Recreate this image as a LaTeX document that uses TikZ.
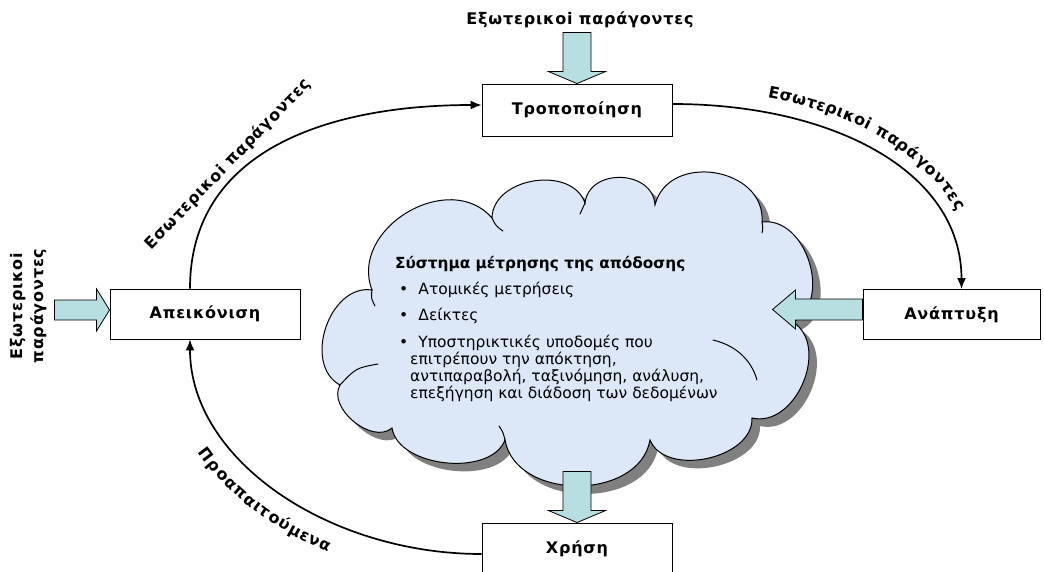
\documentclass[tikz,border=0pt]{standalone}
\usepackage{fontspec}
\setmainfont{DejaVu Sans}
\newfontfamily\lblfont{DejaVu Sans}[LetterSpace=5]
\usetikzlibrary{arrows.meta,decorations.text}
\definecolor{cloudfill}{RGB}{220,232,247}
\definecolor{shadowgray}{RGB}{128,128,128}
\definecolor{arrowfill}{RGB}{183,222,225}

% outline of the central cloud (cusp to cusp, bulging outwards)
\newcommand\cloudshape{(372,290)
  to[bend left=80, looseness=1.2] (492,218)
  to[bend left=80, looseness=1.1] (585,203)
  to[bend left=85, looseness=1.3] (655,205)
  to[bend left=85, looseness=1.3] (762,222)
  to[bend left=80, looseness=1.1] (793,322)
  to[bend left=80, looseness=1.1] (752,418)
  to[bend left=80, looseness=1.0] (650,440)
  to[bend left=80, looseness=1.1] (505,440)
  to[bend left=75, looseness=0.9] (392,428)
  to[bend left=80, looseness=1.0] (340,385)
  to[bend left=80, looseness=1.1] (372,290) -- cycle}

\begin{document}
\begin{tikzpicture}[x=1pt,y=-1pt,
  box/.style={draw, line width=0.9pt, fill=white, minimum width=190pt,
    minimum height=50pt, inner sep=0pt, font=\lblfont\bfseries\fontsize{16}{19}\selectfont},
  flow/.style={line width=1.7pt, -{Latex[length=11pt,width=9pt]}},
  blockarrow/.style={draw, line width=0.8pt, fill=arrowfill, line join=miter},
  lbl/.style={font=\lblfont\bfseries\fontsize{16}{21}\selectfont, inner sep=0pt},
  ctext/.style={font=\fontsize{15.5}{18}\selectfont, anchor=base west, inner sep=0pt},
  cloudline/.style={line width=1pt, line cap=round},
]
\useasboundingbox (0,0) rectangle (1044,572);

% cloud with its drop shadow
\begin{scope}[xshift=8pt, yshift=-8pt]
  \fill[shadowgray] \cloudshape;
\end{scope}
\filldraw[cloudline, fill=cloudfill] \cloudshape;
% inner strokes of the cloud
\draw[cloudline] (372,290) .. controls (371,298) .. (375,306);
\draw[cloudline] (340,385) .. controls (356,368) .. (378,364);
\draw[cloudline] (492,218) .. controls (496,226) .. (503,231);
\draw[cloudline] (585,203) .. controls (583,209) .. (580,214);
\draw[cloudline] (762,222) .. controls (763,228) .. (762,233);
\draw[cloudline] (505,440) .. controls (503,432) .. (499,426);
\draw[cloudline] (713,340) .. controls (738,346) and (752,362) .. (757,380);

% text inside the cloud
\node[ctext, font=\bfseries\fontsize{15.3}{18}\selectfont] (title) at (395,269) {Σύστημα μέτρησης της απόδοσης};
\node[ctext] (b1) at (399,294) {•\hspace{0.65em}Ατομικές μετρήσεις};
\node[ctext] (b2) at (399,320) {•\hspace{0.65em}Δείκτες};
\node[ctext] (b3) at (399,347) {•\hspace{0.65em}Υποστηρικτικές υποδομές που};
\node[ctext] (b3a) at (410,364) {επιτρέπουν την απόκτηση,};
\node[ctext] (b3b) at (410,381) {αντιπαραβολή, ταξινόμηση, ανάλυση,};
\node[ctext] (b3c) at (410,398) {επεξήγηση και διάδοση των δεδομένων};

% the four stages
\node[box, minimum height=52pt] (mod) at (577,110) {Τροποποίηση};
\node[box] (map) at (205,314) {Απεικόνιση};
\node[box, minimum width=177pt] (dev) at (951.5,314.5) {Ανάπτυξη};
\node[box, minimum height=52pt] (use) at (577,549) {Χρήση};

% outside labels
\node[lbl] (extt) at (580,20) {Εξωτερικοi παράγοντες};
\node[lbl, rotate=90, align=center] (extl) at (29,306) {Εξωτερικοi\\παράγοντες};
\node[lbl, rotate=46] (intl) at (228,164) {Εσωτερικοi παράγοντες};

% block arrows
\draw[blockarrow] (mod.north) -- ++(-28.5,-12) -- ++(14.5,0) -- ++(0,-39)
  -- ++(28,0) -- ++(0,39) -- ++(14.5,0) -- cycle;
\draw[blockarrow] (use.north) -- ++(-28.5,-12) -- ++(14.5,0) -- ++(0,-39)
  -- ++(28,0) -- ++(0,39) -- ++(14.5,0) -- cycle;
\draw[blockarrow] ([yshift=4pt]map.west) -- ++(-13,-21) -- ++(0,11) -- ++(-42,0)
  -- ++(0,20) -- ++(42,0) -- ++(0,11) -- cycle;
\draw[blockarrow] ([yshift=15.5pt]dev.west) -- ++(-67,0) -- ++(0,-9) -- ++(-23,19.5)
  -- ++(23,19.5) -- ++(0,-9) -- ++(67,0) -- cycle;

% cycle connectors
\draw[flow] ([xshift=-15pt]map.north) .. controls +(0,-139) and +(-152,0) .. ([yshift=5pt]mod.west);
\draw[flow] ([yshift=6pt]mod.east) .. controls +(158,0) and +(0,-119) .. ([xshift=10pt]dev.north);
\draw[flow] ([yshift=-5pt]use.west) .. controls +(-152,0) and +(0,121) .. ([xshift=-15pt]map.south);

% curved labels along the connectors
\path[decorate, decoration={text along path, text align={center, left indent=20pt}, raise=15pt,
  text={|\lblfont\bfseries\fontsize{16}{19}\selectfont|Εσωτερικοi παράγοντες}}]
  ([yshift=6pt]mod.east) .. controls +(158,0) and +(0,-119) .. ([xshift=10pt]dev.north);
\path[decorate, decoration={text along path, text align={center, right indent=44pt}, raise=-29pt,
  text={|\lblfont\bfseries\fontsize{16}{19}\selectfont|Προαπαιτούμενα}}]
  ([xshift=-15pt]map.south) .. controls +(0,121) and +(-152,0) .. ([yshift=-5pt]use.west);
\end{tikzpicture}
\end{document}
